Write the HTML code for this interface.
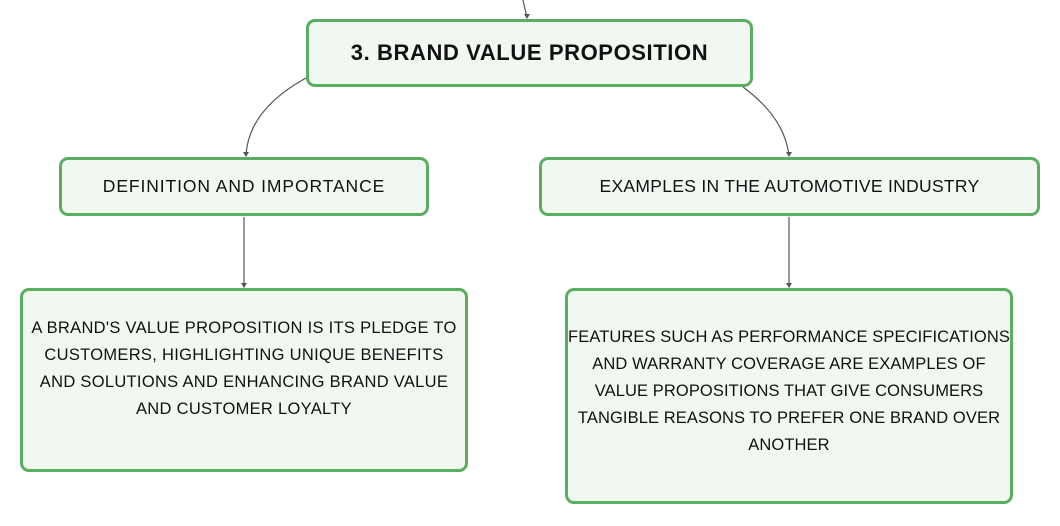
<!DOCTYPE html>
<html><head><style>
body{margin:0;width:1060px;height:526px;background:#fff;position:relative;overflow:hidden;font-family:"Liberation Sans",sans-serif;color:#111}
.b{position:absolute;box-sizing:border-box;border:3px solid #5aae5f;background:#f1f8f2;border-radius:9px;display:flex;align-items:center;justify-content:center;text-align:center;white-space:nowrap}
.t{font-size:16.5px;line-height:27px;letter-spacing:0.3px}
</style></head><body>
<svg width="1060" height="526" style="position:absolute;left:0;top:0">
<g stroke="#555" stroke-width="1.2" fill="none">
<path d="M523 0 L527 18"/>
<path d="M306 78 Q248 110 246 156"/>
<path d="M743 87 Q785 118 789 156"/>
<path d="M244 217 L244 287"/>
<path d="M789 217 L789 287"/>
</g>
<g fill="#555">
<path d="M524 14 L530 14 L527 19Z"/>
<path d="M243 152 L249 152 L246 157Z"/>
<path d="M786 152 L792 152 L789 157Z"/>
<path d="M241 283 L247 283 L244 288Z"/>
<path d="M786 283 L792 283 L789 288Z"/>
</g>
</svg>
<div class="b" style="left:306px;top:19px;width:447px;height:68px;font-weight:bold;font-size:22px;letter-spacing:0.6px">3. BRAND VALUE PROPOSITION</div>
<div class="b" style="left:59px;top:157px;width:370px;height:59px;font-size:17.5px;letter-spacing:0.9px">DEFINITION AND IMPORTANCE</div>
<div class="b" style="left:539px;top:157px;width:501px;height:59px;font-size:17.5px;letter-spacing:0.3px">EXAMPLES IN THE AUTOMOTIVE INDUSTRY</div>
<div class="b t" style="left:20px;top:288px;width:448px;height:184px;padding-bottom:22px">A BRAND'S VALUE PROPOSITION IS ITS PLEDGE TO<br>CUSTOMERS, HIGHLIGHTING UNIQUE BENEFITS<br>AND SOLUTIONS AND ENHANCING BRAND VALUE<br>AND CUSTOMER LOYALTY</div>
<div class="b t" style="left:565px;top:288px;width:448px;height:216px;padding-bottom:10px;letter-spacing:0.1px">FEATURES SUCH AS PERFORMANCE SPECIFICATIONS<br>AND WARRANTY COVERAGE ARE EXAMPLES OF<br>VALUE PROPOSITIONS THAT GIVE CONSUMERS<br>TANGIBLE REASONS TO PREFER ONE BRAND OVER<br>ANOTHER</div>
</body></html>
